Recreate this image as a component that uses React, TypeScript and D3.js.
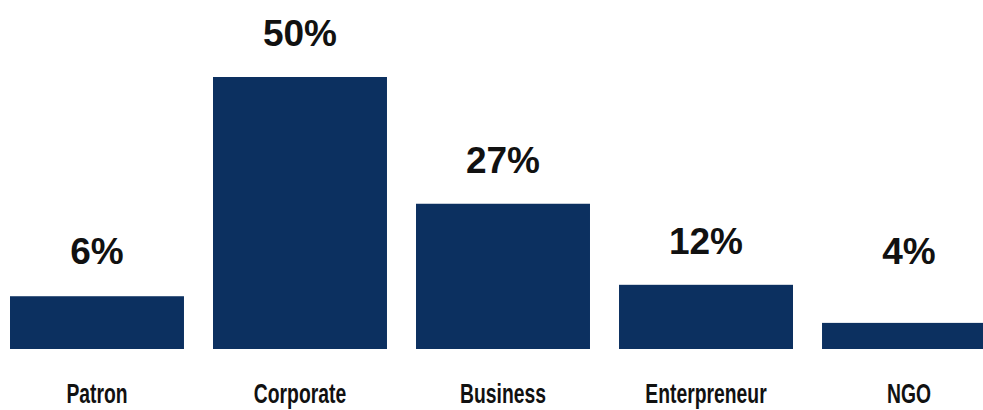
import React from "react";
import * as d3 from "d3";

const categories = ["Patron", "Corporate", "Business", "Enterpreneur", "NGO"];
const barValues = [9.7, 50, 26.7, 11.8, 4.8];
const valueLabels = ["6%", "50%", "27%", "12%", "4%"];

const W = 983;
const H = 410;
const BAR_COLOR = "#0c3060";

export default function App() {
  const x = d3
    .scaleBand<string>()
    .domain(categories)
    .range([10, 996])
    .paddingInner(0.143)
    .paddingOuter(0);
  const y = d3.scaleLinear().domain([0, 50]).range([349, 77]);
  const font = "'Liberation Sans', Arial, Helvetica, sans-serif";

  return (
    <svg
      width={W}
      height={H}
      style={{ position: "absolute", left: 0, top: 0, background: "#fff" }}
    >
      {categories.map((c, i) => {
        const bx = x(c) as number;
        const cx = bx + x.bandwidth() / 2;
        const labelY = y(Math.max(barValues[i], 10)) - 31;
        return (
          <g key={c}>
            <rect
              x={bx}
              y={y(barValues[i])}
              width={x.bandwidth()}
              height={y(0) - y(barValues[i])}
              fill={BAR_COLOR}
            />
            <text
              x={cx}
              y={labelY}
              textAnchor="middle"
              fontFamily={font}
              fontWeight="bold"
              fontSize={37}
              fill="#111"
            >
              {valueLabels[i]}
            </text>
            <g transform={`translate(${cx},403) scale(0.69,1)`}>
              <text
                x={0}
                y={0}
                textAnchor="middle"
                fontFamily={font}
                fontWeight="bold"
                fontSize={28}
                fill="#111"
              >
                {c}
              </text>
            </g>
          </g>
        );
      })}
    </svg>
  );
}
